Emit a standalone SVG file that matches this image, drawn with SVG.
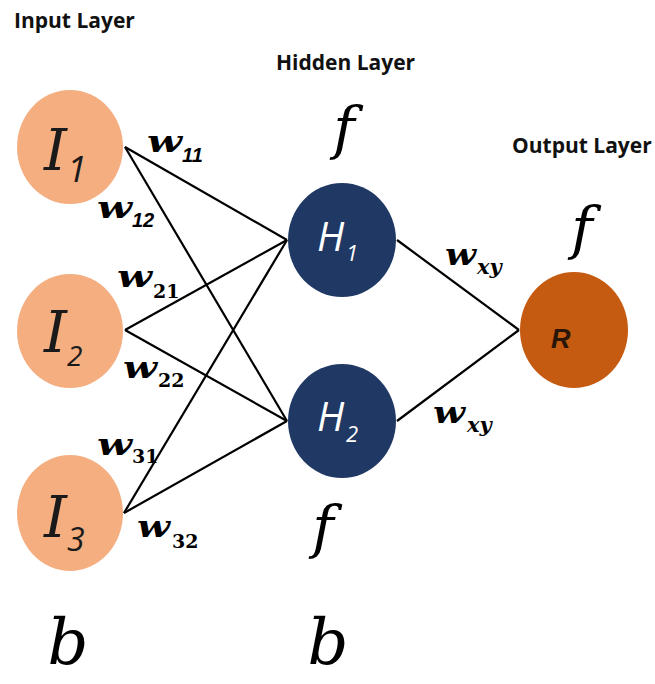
<svg xmlns="http://www.w3.org/2000/svg" width="655" height="684" viewBox="0 0 655 684">
<style>
.title{font-family:"Open Sans","Liberation Sans",sans-serif;font-weight:bold;font-size:21px;fill:#111}
.in{fill:#F4AE80}
.hid{fill:#203864}
.out{fill:#C55A11}
.conn line{stroke:#000;stroke-width:2.2}
.I{font-family:"DejaVu Serif","Liberation Serif",serif;font-style:italic;font-size:58px;fill:#1a1a1a}
.Isub{font-family:"Open Sans","Liberation Sans",sans-serif;font-style:italic;fill:#1a1a1a}
.H{font-family:"Open Sans","Liberation Sans",sans-serif;font-style:italic;font-size:40px;fill:#fff}
.Hsub{font-family:"Open Sans","Liberation Sans",sans-serif;font-style:italic;font-size:22px;fill:#fff}
.R{font-family:"Liberation Sans",sans-serif;font-style:italic;font-weight:bold;font-size:27px;fill:#2a1608}
.w{font-family:"DejaVu Serif","Liberation Serif",serif;font-style:italic;font-weight:bold;font-size:30px;fill:#000}
.ss{font-family:"Liberation Sans",sans-serif;font-style:italic;font-weight:bold;font-size:20px;fill:#000}
.sr{font-family:"DejaVu Serif","Liberation Serif",serif;font-weight:bold;font-size:19px;fill:#000}
.sxy{font-family:"DejaVu Serif","Liberation Serif",serif;font-style:italic;font-weight:bold;font-size:21px;fill:#000}
.f{font-family:"DejaVu Serif","Liberation Serif",serif;font-style:italic;font-size:58px;fill:#000}
.b{font-family:"DejaVu Serif","Liberation Serif",serif;font-style:italic;font-size:64px;fill:#000}
</style>
<rect width="655" height="684" fill="#fff"/>
<text class="title" x="14" y="28">Input Layer</text>
<text class="title" x="276" y="70">Hidden Layer</text>
<text class="title" x="512" y="153">Output Layer</text>

<g id="connectors" class="conn">
<line x1="125" y1="147" x2="287" y2="240"/>
<line x1="125" y1="147" x2="287" y2="421"/>
<line x1="125" y1="330" x2="287" y2="240"/>
<line x1="125" y1="330" x2="287" y2="421"/>
<line x1="124" y1="513" x2="287" y2="240"/>
<line x1="124" y1="513" x2="287" y2="421"/>
<line x1="397" y1="240" x2="519" y2="330"/>
<line x1="397" y1="421" x2="519" y2="330"/>
</g>

<g id="I1">
<ellipse class="in" cx="70" cy="147" rx="53" ry="57"/>
<text class="I" x="44" y="170">I</text>
<text class="Isub" x="67" y="182" font-size="36">1</text>
</g>
<g id="I2">
<ellipse class="in" cx="70" cy="331" rx="53" ry="57"/>
<text class="I" x="44" y="352">I</text>
<text class="Isub" x="67" y="366" font-size="28">2</text>
</g>
<g id="I3">
<ellipse class="in" cx="70" cy="513" rx="53" ry="58"/>
<text class="I" x="44" y="537">I</text>
<text class="Isub" x="67" y="551" font-size="32">3</text>
</g>
<g id="H1">
<ellipse class="hid" cx="342" cy="240" rx="54" ry="57"/>
<text class="H" x="317" y="251">H</text>
<text class="Hsub" x="346" y="261">1</text>
</g>
<g id="H2">
<ellipse class="hid" cx="342" cy="421" rx="54" ry="57"/>
<text class="H" x="317" y="431">H</text>
<text class="Hsub" x="346" y="442">2</text>
</g>
<g id="R">
<ellipse class="out" cx="574" cy="330" rx="54" ry="58"/>
<text class="R" x="551" y="348">R</text>
</g>

<g id="weights">
<text class="w" x="147" y="152" textLength="35" lengthAdjust="spacingAndGlyphs">w</text><text class="ss" x="182" y="162">11</text>
<text class="w" x="97" y="218" textLength="35" lengthAdjust="spacingAndGlyphs">w</text><text class="ss" x="132" y="227">12</text>
<text class="w" x="117" y="287" textLength="35" lengthAdjust="spacingAndGlyphs">w</text><text class="sr" x="153" y="298">21</text>
<text class="w" x="123" y="378" textLength="34" lengthAdjust="spacingAndGlyphs">w</text><text class="sr" x="158" y="387">22</text>
<text class="w" x="97" y="455" textLength="35" lengthAdjust="spacingAndGlyphs">w</text><text class="sr" x="132" y="463">31</text>
<text class="w" x="137" y="537" textLength="33" lengthAdjust="spacingAndGlyphs">w</text><text class="sr" x="172" y="548">32</text>
<text class="w" x="445" y="265" textLength="31" lengthAdjust="spacingAndGlyphs">w</text><text class="sxy" x="477" y="274">xy</text>
<text class="w" x="433" y="423" textLength="32" lengthAdjust="spacingAndGlyphs">w</text><text class="sxy" x="467" y="432">xy</text>
</g>

<text class="f" x="344" y="148" text-anchor="middle">f</text>
<text class="f" x="582" y="248" text-anchor="middle">f</text>
<text class="f" x="323" y="547" text-anchor="middle">f</text>
<text class="b" x="68" y="664" text-anchor="middle">b</text>
<text class="b" x="328" y="664" text-anchor="middle">b</text>
</svg>
